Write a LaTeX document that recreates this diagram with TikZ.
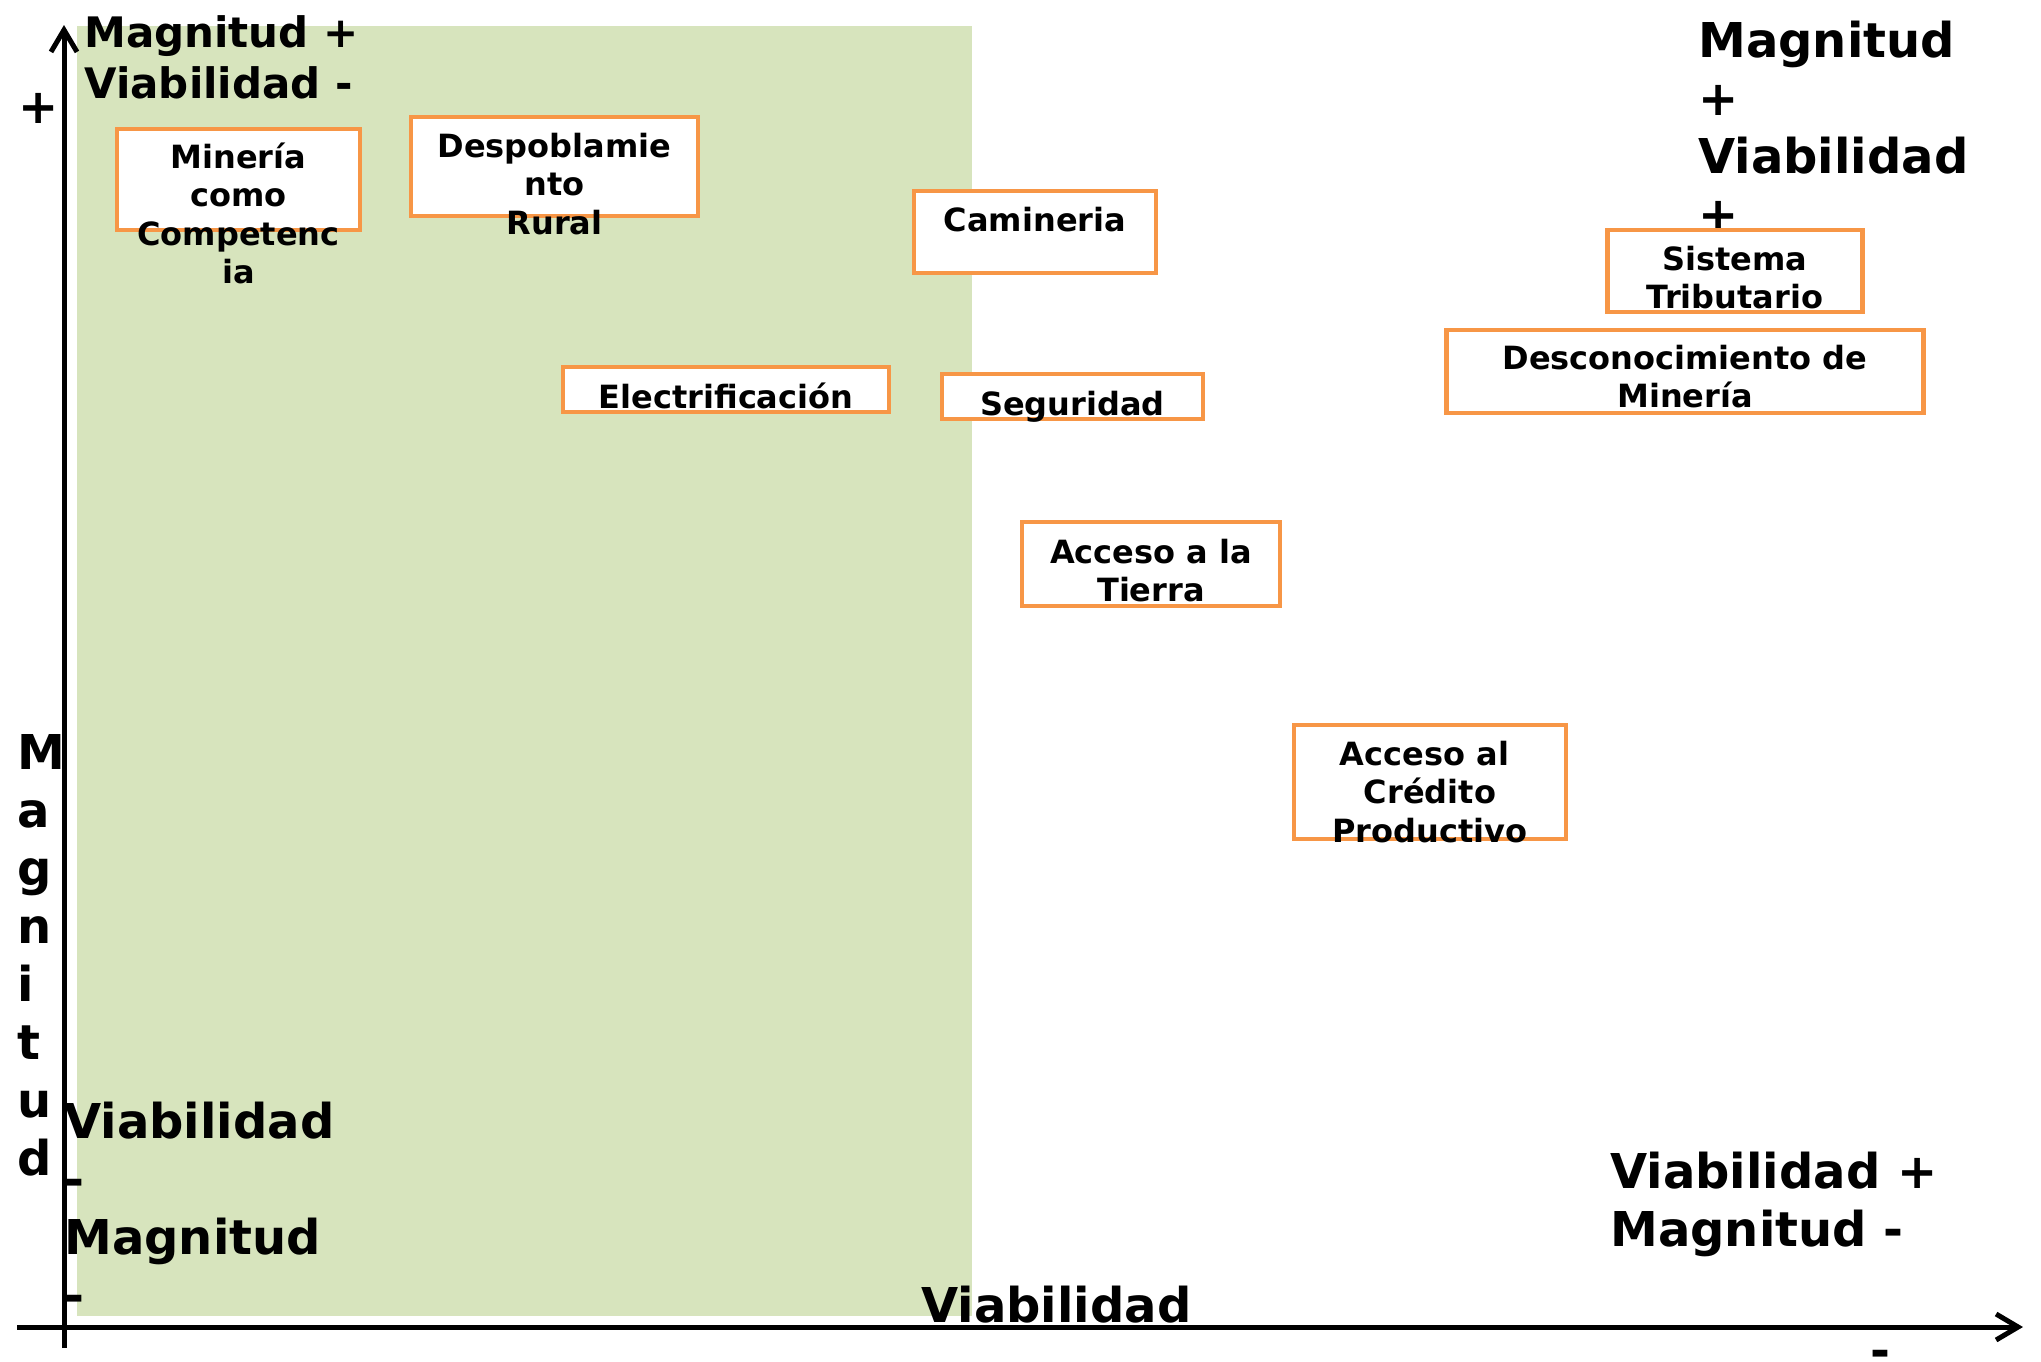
\documentclass[tikz,border=0pt]{standalone}
\usepackage{fontspec}
\setmainfont{DejaVu Sans}
\usetikzlibrary{arrows.meta}
\definecolor{qgreen}{HTML}{D7E4BD}
\definecolor{qorange}{HTML}{F79646}
\begin{document}
\begin{tikzpicture}[x=0.5pt,y=-0.5pt,
  box/.style={draw=qorange,line width=2.3pt,fill=white,inner sep=0pt,rectangle},
  boxtext/.style={font=\fontsize{16}{19.25}\selectfont\bfseries,align=center,inner sep=0pt,anchor=base},
  biglabel/.style={font=\fontsize{24}{29}\selectfont\bfseries,align=left,inner sep=0pt,anchor=base west},
  midlabel/.style={font=\fontsize{21}{25.5}\selectfont\bfseries,align=left,inner sep=0pt,anchor=base west},
  axisline/.style={line width=2.5pt,-{Straight Barb[length=11pt,width=13pt]}}]
\fill[white] (0,0) rectangle (2041,1361);
\useasboundingbox (0,0) rectangle (2041,1361);
% green quadrant
\fill[qgreen] (77,26) rectangle (972,1316);
% quadrant labels (base anchor = last line)
\node[midlabel] (tl) at (84,98) {Magnitud +\\Viabilidad -};
\node[biglabel] (tr) at (1698,231) {Magnitud\\+\\Viabilidad\\+};
\node[biglabel] (bl) at (64,1312) {Viabilidad\\-\\Magnitud\\-};
\node[biglabel] (br) at (1610,1246) {Viabilidad +\\Magnitud -};
\node[biglabel] (vx) at (921,1322) {Viabilidad};
\node[biglabel] (mx) at (1870,1367) {-};
\node[biglabel,anchor=base] (py) at (38.5,123) {+};
\node[biglabel] (my) at (17,1175) {M\\a\\g\\n\\i\\t\\u\\d};
% axes
\coordinate (yb) at (64,1348);
\coordinate (yt) at (64,25);
\coordinate (xl) at (17,1327);
\coordinate (xr) at (2023,1327);
\draw[axisline] (yb) -- (yt);
\draw[axisline] (xl) -- (xr);
% boxes
\node[box,minimum width=121.5pt,minimum height=50.5pt] (mineria) at (238.5,179.5) {};
\node[box,minimum width=143.5pt,minimum height=49.5pt] (despob) at (554.5,166.5) {};
\node[box,minimum width=121pt,minimum height=41pt] (camin) at (1035,232) {};
\node[box,minimum width=163pt,minimum height=22.5pt] (electr) at (726,389.5) {};
\node[box,minimum width=130.5pt,minimum height=22.5pt] (segur) at (1072.5,396.5) {};
\node[box,minimum width=129pt,minimum height=42pt] (tierra) at (1151,564) {};
\node[box,minimum width=136pt,minimum height=57pt] (credito) at (1430,782) {};
\node[box,minimum width=127.5pt,minimum height=41pt] (sistema) at (1735,271) {};
\node[box,minimum width=238.5pt,minimum height=41.5pt] (descon) at (1685,371.5) {};
% box texts (base anchor = last line)
\node[boxtext] (mineriat) at (238.5,283.5) {Minería\\como\\Competenc\\ia};
\node[boxtext] (despobt) at (554.5,234) {Despoblamie\\nto\\Rural};
\node[boxtext] (camint) at (1035,231) {Camineria};
\node[boxtext] (electrt) at (726,408) {Electrificación};
\node[boxtext] (segurt) at (1072.5,415) {Seguridad};
\node[boxtext] (tierrat) at (1151,601.5) {Acceso a la\\Tierra};
\node[boxtext] (creditot) at (1430,842) {Acceso al\hspace*{0.35em}\\Crédito\\Productivo};
\node[boxtext] (sistemat) at (1735,308.5) {Sistema\\Tributario};
\node[boxtext] (descont) at (1685,407.5) {Desconocimiento de\\Minería};
\end{tikzpicture}
\end{document}
